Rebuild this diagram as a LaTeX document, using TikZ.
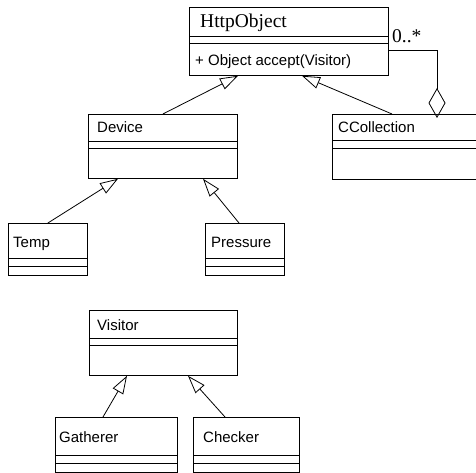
\documentclass[tikz,border=0pt]{standalone}
\usepackage{fontspec}
\setmainfont{Liberation Serif}
\setsansfont{Liberation Sans}
\usetikzlibrary{arrows.meta}

\tikzset{
	classbox/.style={draw, rectangle, inner sep=0pt, anchor=north west, line width=0.8pt},
	classname/.style={anchor=base west, inner sep=0pt, font=\sffamily\fontsize{15}{18}\selectfont},
	serifname/.style={anchor=base west, inner sep=0pt, font=\fontsize{19.5}{22}\selectfont},
	divider/.style={line width=0.8pt},
	inherit/.style={-{Triangle[open, length=18pt, width=12pt]}, line width=0.8pt},
	aggregate/.style={-{Diamond[open, length=30pt, width=17pt]}, line width=0.8pt},
}

\begin{document}
\begin{tikzpicture}[x=1pt, y=-1pt]
	\useasboundingbox (0,0) rectangle (476,473);

	% classes
	\node[classbox, minimum width=199pt, minimum height=68pt] (http) at (189,7) {};
	\node[classbox, minimum width=149pt, minimum height=64pt] (device) at (88,114) {};
	\node[classbox, minimum width=146pt, minimum height=65pt] (ccoll) at (332,114) {};
	\node[classbox, minimum width=79pt, minimum height=52pt] (temp) at (8,223) {};
	\node[classbox, minimum width=79pt, minimum height=52pt] (pressure) at (205,223) {};
	\node[classbox, minimum width=148pt, minimum height=65pt] (visitor) at (89,310) {};
	\node[classbox, minimum width=122pt, minimum height=55pt] (gatherer) at (55,417) {};
	\node[classbox, minimum width=106pt, minimum height=55pt] (checker) at (193,417) {};

	% names
	\node[serifname] (httpname) at (200,28) {HttpObject};
	\node[classname] (httpop) at (195,66) {+ Object accept(Visitor)};
	\node[classname] (devicename) at (97,133) {Device};
	\node[classname] (ccollname) at (338,133) {CCollection};
	\node[classname] (tempname) at (13,247) {Temp};
	\node[classname] (pressurename) at (211,247) {Pressure};
	\node[classname] (visitorname) at (97,330) {Visitor};
	\node[classname] (gatherername) at (59,442) {Gatherer};
	\node[classname] (checkername) at (203,442) {Checker};

	% compartments
	\draw[divider] ([yshift=-29pt]http.north west) -- ([yshift=-29pt]http.north east);
	\draw[divider] ([yshift=-36pt]http.north west) -- ([yshift=-36pt]http.north east);
	\draw[divider] ([yshift=-27pt]device.north west) -- ([yshift=-27pt]device.north east);
	\draw[divider] ([yshift=-34pt]device.north west) -- ([yshift=-34pt]device.north east);
	\draw[divider] ([yshift=-26pt]ccoll.north west) -- ([yshift=-26pt]ccoll.north east);
	\draw[divider] ([yshift=-34pt]ccoll.north west) -- ([yshift=-34pt]ccoll.north east);
	\draw[divider] ([yshift=-35pt]temp.north west) -- ([yshift=-35pt]temp.north east);
	\draw[divider] ([yshift=-43pt]temp.north west) -- ([yshift=-43pt]temp.north east);
	\draw[divider] ([yshift=-35pt]pressure.north west) -- ([yshift=-35pt]pressure.north east);
	\draw[divider] ([yshift=-43pt]pressure.north west) -- ([yshift=-43pt]pressure.north east);
	\draw[divider] ([yshift=-28pt]visitor.north west) -- ([yshift=-28pt]visitor.north east);
	\draw[divider] ([yshift=-35pt]visitor.north west) -- ([yshift=-35pt]visitor.north east);
	\draw[divider] ([yshift=-38pt]gatherer.north west) -- ([yshift=-38pt]gatherer.north east);
	\draw[divider] ([yshift=-46pt]gatherer.north west) -- ([yshift=-46pt]gatherer.north east);
	\draw[divider] ([yshift=-38pt]checker.north west) -- ([yshift=-38pt]checker.north east);
	\draw[divider] ([yshift=-46pt]checker.north west) -- ([yshift=-46pt]checker.north east);

	% generalisations
	\draw[inherit] (device.north) -- ([xshift=49pt]http.south west);
	\draw[inherit] ([xshift=60pt]ccoll.north west) -- ([xshift=113pt]http.south west);
	\draw[inherit] (temp.north) -- ([xshift=30pt]device.south west);
	\draw[inherit] ([xshift=34pt]pressure.north west) -- ([xshift=115pt]device.south west);
	\draw[inherit] ([xshift=48pt]gatherer.north west) -- ([xshift=38pt]visitor.south west);
	\draw[inherit] ([xshift=32pt]checker.north west) -- ([xshift=99pt]visitor.south west);

	% aggregation
	\draw[aggregate, shorten >=-4pt] ([yshift=-9pt]http.east) -| ([xshift=105pt]ccoll.north west);
	\node[serifname] (mult) at (392,43) {0..*};
\end{tikzpicture}
\end{document}
